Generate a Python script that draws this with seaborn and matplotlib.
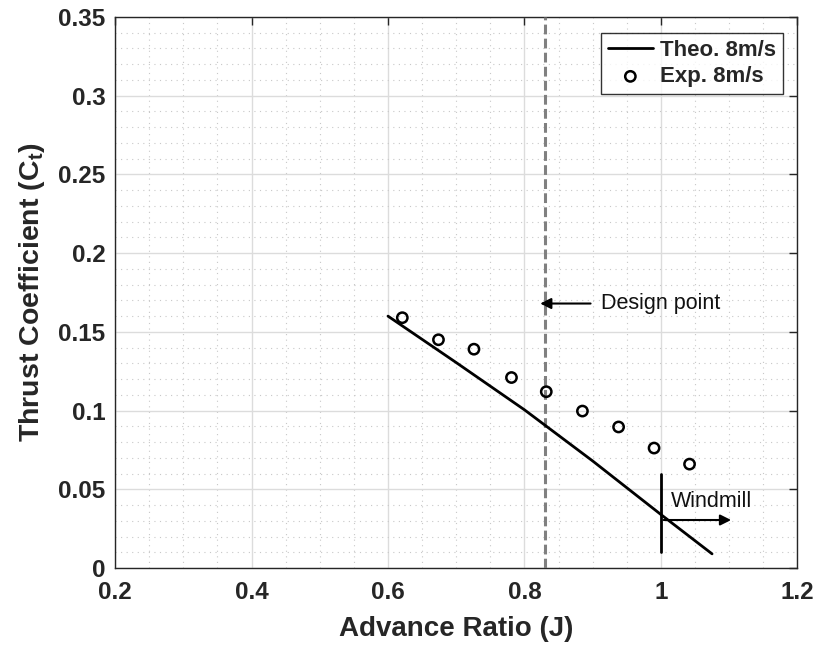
import matplotlib
matplotlib.use("Agg")
import matplotlib.pyplot as plt
import seaborn as sns
import pandas as pd
import numpy as np
from matplotlib.ticker import MultipleLocator

# Data
theo_J = [0.60, 0.70, 0.80, 0.90, 1.00, 1.075]
theo_Ct = [0.160, 0.1305, 0.1005, 0.068, 0.034, 0.009]
exp_J = [0.621, 0.674, 0.726, 0.781, 0.832, 0.885, 0.938, 0.990, 1.042]
exp_Ct = [0.159, 0.145, 0.139, 0.121, 0.112, 0.0997, 0.0896, 0.0762, 0.066]
design_J = 0.83
x_ticks = [0.2, 0.4, 0.6, 0.8, 1.0, 1.2]
y_ticks = [0, 0.05, 0.1, 0.15, 0.2, 0.25, 0.3, 0.35]
x_ticklabels = ["0.2", "0.4", "0.6", "0.8", "1", "1.2"]
y_ticklabels = ["0", "0.05", "0.1", "0.15", "0.2", "0.25", "0.3", "0.35"]

sns.set_style("white")
plt.rcParams['font.family'] = ['Liberation Sans', 'DejaVu Sans']
plt.rcParams['mathtext.fontset'] = 'custom'
plt.rcParams['mathtext.bf'] = 'Liberation Sans:bold'
plt.rcParams['mathtext.rm'] = 'Liberation Sans:bold'
plt.rcParams['mathtext.default'] = 'bf'

fig = plt.figure(figsize=(8.22, 6.46), dpi=100)
ax = fig.add_axes([0.140, 0.1207, 0.830, 0.8530])

theo = pd.DataFrame({"J": theo_J, "Ct": theo_Ct})
exp = pd.DataFrame({"J": exp_J, "Ct": exp_Ct})

sns.lineplot(data=theo, x="J", y="Ct", ax=ax, color="black", lw=2, label="Theo. 8m/s", zorder=5)
sns.scatterplot(data=exp, x="J", y="Ct", ax=ax, marker="o", s=55, facecolor="none",
                edgecolor="black", linewidth=1.8, label="Exp. 8m/s", zorder=6)

ax.axvline(design_J, color="#808080", lw=2.2, ls=(0, (3.2, 1.4)), zorder=4)

ax.annotate("", xy=(0.819, 0.168), xytext=(0.901, 0.168),
            arrowprops=dict(arrowstyle="-|>", color="black", lw=1.5, mutation_scale=16), zorder=7)
ax.text(0.912, 0.168, "Design point", fontsize=15.5, va="center", ha="left", color="#111111")

ax.plot([1.0, 1.0], [0.0102, 0.060], color="black", lw=2, zorder=7)
ax.annotate("", xy=(1.107, 0.0305), xytext=(1.0, 0.0305),
            arrowprops=dict(arrowstyle="-|>", color="black", lw=1.5, mutation_scale=16), zorder=7)
ax.text(1.015, 0.042, "Windmill", fontsize=15.5, va="center", ha="left", color="#111111")

ax.set_xlim(0.2, 1.2)
ax.set_ylim(0, 0.35)
ax.set_xticks(x_ticks)
ax.set_xticklabels(x_ticklabels)
ax.set_yticks(y_ticks)
ax.set_yticklabels(y_ticklabels)
ax.xaxis.set_minor_locator(MultipleLocator(0.05))
ax.yaxis.set_minor_locator(MultipleLocator(0.01))
ax.grid(which="major", color="#dcdcdc", lw=1.0, ls="-")
ax.grid(which="minor", color="#c8c8c8", lw=0.8, ls=(0, (1, 4)))
ax.set_axisbelow(True)

ax.tick_params(axis="both", which="major", direction="in", length=6, width=1, top=True, right=True,
               labelsize=17.5, color="#262626")
ax.tick_params(axis="x", which="major", pad=9)
ax.tick_params(axis="y", which="major", pad=7)
ax.tick_params(which="minor", length=0)
for lab in ax.get_xticklabels() + ax.get_yticklabels():
    lab.set_fontweight("bold")
    lab.set_color("#262626")
for sp in ax.spines.values():
    sp.set_color("#262626")
    sp.set_linewidth(1.0)

ax.set_xlabel("Advance Ratio (J)", fontsize=20, fontweight="bold", color="#262626", labelpad=9)
ax.set_ylabel(r"Thrust Coefficient (C$_{t}$)", fontsize=20.5, fontweight="bold", color="#262626", labelpad=8)

leg = ax.legend(loc="upper right", bbox_to_anchor=(0.979, 0.971), prop={"weight": "bold", "size": 16},
                frameon=True, fancybox=False, edgecolor="black", borderpad=0.3,
                handlelength=2.0, labelspacing=0.25, handletextpad=0.35, borderaxespad=0)
leg.get_frame().set_linewidth(1.0)

fig.savefig("out.png", dpi=100)
